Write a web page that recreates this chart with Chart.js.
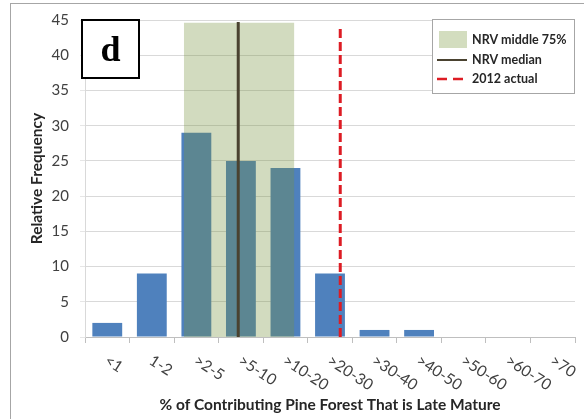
<!DOCTYPE html>
<html>
<head>
<meta charset="utf-8">
<script src="https://cdn.jsdelivr.net/npm/chart.js@4.4.0/dist/chart.umd.min.js"></script>
<style>
  body { margin: 0; background: #fff; }
  #wrap { position: relative; width: 584px; height: 419px; overflow: hidden; }
  #frame { position: absolute; left: 10px; top: 3px; right: -2px; bottom: -2px; border-top: 1px solid #a6a6a6; border-left: 1px solid #a6a6a6; }
  #grafico { position: absolute; left: 0; top: 0; }
</style>
</head>
<body>
<div id="wrap">
  <div id="frame"></div>
  <canvas id="grafico" width="584" height="419"></canvas>
</div>
<script>
// dados
const categorias = ["<1", "1-2", ">2-5", ">5-10", ">10-20", ">20-30", ">30-40", ">40-50", ">50-60", ">60-70", ">70"];
const frequencia = [2, 9, 29, 25, 24, 9, 1, 1, 0, 0, 0];

// faixas em unidades de indice de categoria
const nrvMeio75 = [1.72, 4.2];
const nrvTopo = 44.6;
const nrvMediana = 2.94;
const atual2012 = 5.23;

const yMin = 0;
const yMax = 45;
const yPasso = 5;

const rotulosLegenda = ["NRV middle 75%", "NRV median", "2012 actual"];
const letraPainel = "d";

const tituloY = "Relative Frequency";
const tituloX = "% of Contributing Pine Forest That is Late Mature";

const fonte = "Lato, 'Open Sans', sans-serif";

// desenha rotulos do eixo x inclinados, titulo x, caixa "d" e legenda
const extras = {
    id: "extras",
    afterDraw(chart) {
        const ctx = chart.ctx;
        const x = chart.scales.x;
        const area = chart.chartArea;

        ctx.save();
        ctx.fillStyle = "#404040";
        ctx.font = "15.5px " + fonte;
        ctx.textAlign = "left";
        ctx.textBaseline = "middle";
        categorias.forEach((c, i) => {
            let px = x.getPixelForTick(i);
            ctx.save();
            ctx.translate(px - 1, area.bottom + 22);
            ctx.rotate(33 * Math.PI / 180);
            ctx.fillText(c, 0, 0);
            ctx.restore();
        });

        // titulo do eixo x
        ctx.fillStyle = "#262626";
        ctx.font = "bold 15.5px " + fonte;
        ctx.textAlign = "center";
        ctx.fillText(tituloX, (area.left + area.right) / 2, 405);
        ctx.restore();

        // caixa da letra
        ctx.save();
        ctx.fillStyle = "#fff";
        ctx.fillRect(area.left - 3, area.top, 57, 58);
        ctx.strokeStyle = "#000";
        ctx.lineWidth = 2;
        ctx.strokeRect(area.left - 3, area.top, 57, 58);
        ctx.fillStyle = "#000";
        ctx.font = "bold 36px 'Liberation Serif', serif";
        ctx.textAlign = "center";
        ctx.textBaseline = "alphabetic";
        ctx.fillText(letraPainel, area.left + 25.5, area.top + 41);
        ctx.restore();

        // legenda
        const ds = chart.data.datasets;
        const lx = 432, ly = 19, lw = 142, lh = 74;
        ctx.save();
        ctx.fillStyle = "#fff";
        ctx.fillRect(lx, ly, lw, lh);
        ctx.strokeStyle = "#a6a6a6";
        ctx.lineWidth = 1;
        ctx.strokeRect(lx + 0.5, ly + 0.5, lw, lh);

        ctx.fillStyle = "rgb(211,221,191)";
        ctx.fillRect(lx + 7, ly + 12, 28, 17);

        ctx.strokeStyle = ds[2].borderColor;
        ctx.lineWidth = 2;
        ctx.beginPath();
        ctx.moveTo(lx + 5, ly + 41);
        ctx.lineTo(lx + 35, ly + 41);
        ctx.stroke();

        ctx.strokeStyle = ds[3].borderColor;
        ctx.lineWidth = 2.5;
        ctx.setLineDash([10, 6]);
        ctx.beginPath();
        ctx.moveTo(lx + 5, ly + 60);
        ctx.lineTo(lx + 35, ly + 60);
        ctx.stroke();
        ctx.setLineDash([]);

        ctx.fillStyle = "#262626";
        ctx.font = "bold 12.5px " + fonte;
        ctx.textAlign = "left";
        ctx.textBaseline = "middle";
        ctx.fillText(rotulosLegenda[0], lx + 40, ly + 21);
        ctx.fillText(rotulosLegenda[1], lx + 40, ly + 41);
        ctx.fillText(rotulosLegenda[2], lx + 40, ly + 60);
        ctx.restore();
    }
};

const ctx = document.getElementById("grafico").getContext("2d");
const grafico = new Chart(ctx, {
    type: "bar",
    data: {
        labels: categorias,
        datasets: [
            {
                type: "bar",
                label: "Frequency",
                data: frequencia,
                backgroundColor: "#4f81bd",
                borderWidth: 0,
                barPercentage: 0.67,
                categoryPercentage: 1,
                grouped: false,
                xAxisID: "x",
                order: 4
            },
            {
                type: "line",
                label: rotulosLegenda[0],
                data: [{x: nrvMeio75[0], y: nrvTopo}, {x: nrvMeio75[1], y: nrvTopo}],
                xAxisID: "x2",
                borderWidth: 0,
                borderColor: "rgba(0,0,0,0)",
                backgroundColor: "rgba(119,147,60,0.33)",
                fill: "origin",
                pointRadius: 0,
                order: 3
            },
            {
                type: "line",
                label: rotulosLegenda[1],
                data: [{x: nrvMediana, y: 0}, {x: nrvMediana, y: nrvTopo + 0.1}],
                xAxisID: "x2",
                borderColor: "#4a4230",
                borderWidth: 3,
                pointRadius: 0,
                fill: false,
                order: 2
            },
            {
                type: "line",
                label: rotulosLegenda[2],
                data: [{x: atual2012, y: 0}, {x: atual2012, y: nrvTopo - 0.3}],
                xAxisID: "x2",
                borderColor: "#dd1c24",
                borderWidth: 3,
                borderDash: [9, 4],
                pointRadius: 0,
                fill: false,
                order: 1
            }
        ]
    },
    options: {
        responsive: false,
        animation: false,
        layout: { padding: { left: 0, right: 9, top: 18, bottom: 0 } },
        plugins: {
            legend: { display: false },
            tooltip: { enabled: false }
        },
        scales: {
            x: {
                type: "category",
                offset: true,
                grid: {
                    offset: true,
                    drawOnChartArea: false,
                    drawTicks: true,
                    tickLength: 6,
                    color: "#bfbfbf"
                },
                border: { color: "#bfbfbf" },
                ticks: { display: false },
                afterFit(scale) { scale.height = 82; }
            },
            x2: {
                type: "linear",
                display: false,
                offset: false,
                grid: { offset: false },
                min: -0.5,
                max: categorias.length - 0.5
            },
            y: {
                min: yMin,
                max: yMax,
                ticks: {
                    stepSize: yPasso,
                    color: "#404040",
                    font: { family: fonte, size: 15 },
                    padding: 11
                },
                grid: {
                    color: "#d9d9d9",
                    tickLength: 5,
                    tickColor: "#e6e6e6"
                },
                border: { color: "#d9d9d9" },
                title: {
                    display: true,
                    text: tituloY,
                    color: "#262626",
                    font: { family: fonte, size: 15.5, weight: "bold" },
                    padding: { top: 28, bottom: 0 }
                },
                afterFit(scale) { scale.width = 85; }
            }
        }
    },
    plugins: [extras]
});
</script>
</body>
</html>
